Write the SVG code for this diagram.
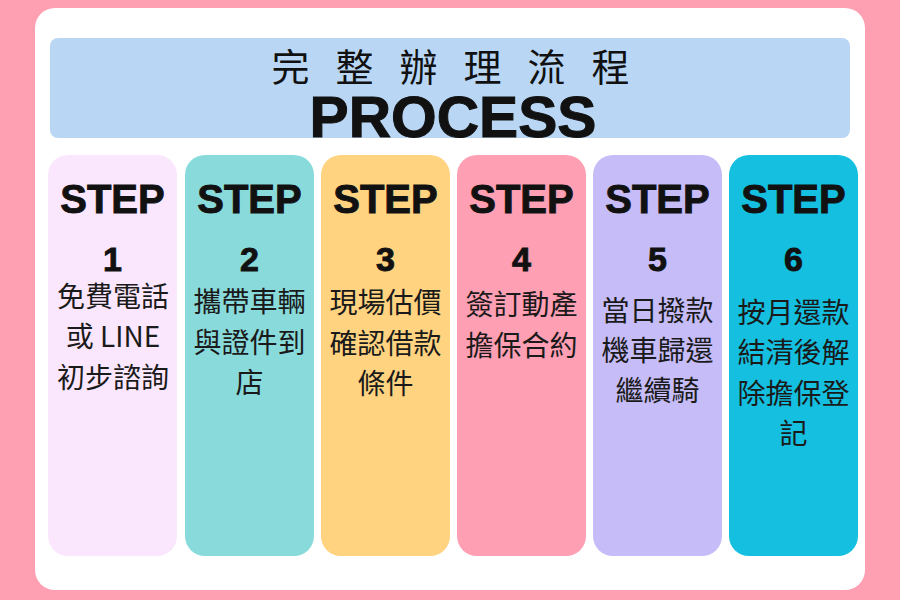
<svg xmlns="http://www.w3.org/2000/svg" width="900" height="600" viewBox="0 0 900 600">
<style>
.step{font-family:"Liberation Sans","DejaVu Sans",sans-serif;font-weight:bold;font-size:40px;fill:#111;stroke:#111;stroke-width:0.9;text-anchor:middle}
.num{font-family:"Liberation Sans","DejaVu Sans",sans-serif;font-weight:bold;font-size:34px;fill:#111;stroke:#111;stroke-width:0.9;text-anchor:middle}
.zh{font-family:"Noto Sans CJK TC","Noto Sans CJK SC",sans-serif;font-size:28px;fill:#1a1a1a;text-anchor:middle}
</style>
<rect x="0" y="0" width="900" height="600" fill="#ff9fb2"/>
<rect x="35" y="8" width="830" height="582" rx="20" fill="#ffffff"/>
<g id="header">
<rect x="50" y="38" width="800" height="100" rx="8" fill="#b9d7f5"/>
<text x="463.5" y="81" font-family="Noto Sans CJK TC,Noto Sans CJK SC,sans-serif" font-weight="400" font-size="38" letter-spacing="26" text-anchor="middle" fill="#111">完整辦理流程</text>
<text x="453" y="137" font-family="Liberation Sans,DejaVu Sans,sans-serif" font-weight="bold" font-size="58" textLength="287" lengthAdjust="spacingAndGlyphs" text-anchor="middle" fill="#111" stroke="#111" stroke-width="1">PROCESS</text>
</g>
<g id="step1">
<rect x="48" y="155" width="129" height="401" rx="20" fill="#fbe7fd"/>
<text class="step" x="112.5" y="213">STEP</text>
<text class="num" x="112.5" y="271">1</text>
<text class="zh" x="113" y="306.5">免費電話</text>
<text class="zh" x="113" y="347">或 LINE</text>
<text class="zh" x="113" y="388">初步諮詢</text>
</g>
<g id="step2">
<rect x="185" y="155" width="129" height="401" rx="20" fill="#89dbdb"/>
<text class="step" x="249.5" y="213">STEP</text>
<text class="num" x="249.5" y="271">2</text>
<text class="zh" x="249.5" y="312">攜帶車輛</text>
<text class="zh" x="249.5" y="352.5">與證件到</text>
<text class="zh" x="249.5" y="393">店</text>
</g>
<g id="step3">
<rect x="321" y="155" width="129" height="401" rx="20" fill="#ffd380"/>
<text class="step" x="385.5" y="213">STEP</text>
<text class="num" x="385.5" y="271">3</text>
<text class="zh" x="385.5" y="313">現場估價</text>
<text class="zh" x="385.5" y="353.5">確認借款</text>
<text class="zh" x="385.5" y="394">條件</text>
</g>
<g id="step4">
<rect x="457" y="155" width="129" height="401" rx="20" fill="#ff9fb3"/>
<text class="step" x="521.5" y="213">STEP</text>
<text class="num" x="521.5" y="271">4</text>
<text class="zh" x="521.5" y="315">簽訂動產</text>
<text class="zh" x="521.5" y="356">擔保合約</text>
</g>
<g id="step5">
<rect x="593" y="155" width="129" height="401" rx="20" fill="#c6bcf8"/>
<text class="step" x="657.5" y="213">STEP</text>
<text class="num" x="657.5" y="271">5</text>
<text class="zh" x="657.5" y="320.5">當日撥款</text>
<text class="zh" x="657.5" y="361">機車歸還</text>
<text class="zh" x="657.5" y="401">繼續騎</text>
</g>
<g id="step6">
<rect x="729" y="155" width="129" height="401" rx="20" fill="#14bfdf"/>
<text class="step" x="793.5" y="213">STEP</text>
<text class="num" x="793.5" y="271">6</text>
<text class="zh" x="793.5" y="322.5">按月還款</text>
<text class="zh" x="793.5" y="363">結清後解</text>
<text class="zh" x="793.5" y="403.5">除擔保登</text>
<text class="zh" x="793.5" y="444">記</text>
</g>
</svg>
